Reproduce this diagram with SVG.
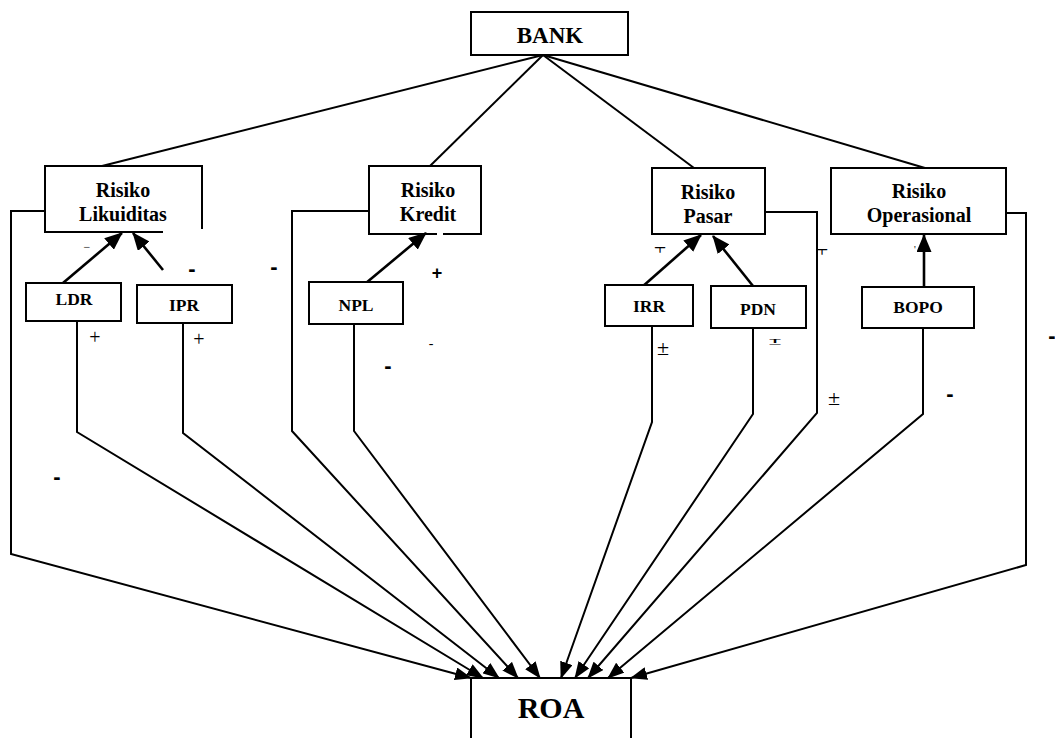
<svg xmlns="http://www.w3.org/2000/svg" width="1055" height="738" viewBox="0 0 1055 738">
<style>
.box{fill:#fff;stroke:#000;stroke-width:2}
.ln{fill:none;stroke:#000;stroke-width:2}
.ar{fill:none;stroke:#000;stroke-width:2.6}
.t{font-family:"Liberation Serif","Times New Roman",serif;font-weight:bold;text-anchor:middle;fill:#000}
.big{font-size:20px}
.sm{font-size:17.5px}
.sg{font-family:"Liberation Serif","Times New Roman",serif;text-anchor:middle;fill:#000}
.sb{font-family:"Liberation Sans",Arial,sans-serif;font-weight:bold;text-anchor:middle;fill:#000}
</style>
<defs>
<marker id="ah" markerUnits="userSpaceOnUse" markerWidth="17" markerHeight="13" refX="16" refY="6.5" orient="auto">
<path d="M0,0 L17,6.5 L0,13 z" fill="#000"/>
</marker>
<marker id="ah2" markerUnits="userSpaceOnUse" markerWidth="18" markerHeight="15" refX="17" refY="7.5" orient="auto">
<path d="M0,0 L18,7.5 L0,15 z" fill="#000"/>
</marker>
<clipPath id="c1"><rect x="648" y="247" width="25" height="6"/></clipPath>
<clipPath id="c2"><rect x="810" y="249" width="25" height="6"/></clipPath>
<clipPath id="c3"><rect x="762" y="339" width="25" height="6"/></clipPath>
</defs>

<g id="connectors">
<line class="ln" x1="543" y1="55" x2="102" y2="166"/>
<line class="ln" x1="543" y1="55" x2="430" y2="166"/>
<line class="ln" x1="543" y1="55" x2="694" y2="168"/>
<line class="ln" x1="543" y1="55" x2="925" y2="168"/>
<line class="ar" x1="63" y1="283" x2="122" y2="233" marker-end="url(#ah2)"/>
<line class="ar" x1="163" y1="270" x2="133" y2="233" marker-end="url(#ah2)"/>
<line class="ar" x1="366" y1="283" x2="426" y2="233" marker-end="url(#ah2)"/>
<line class="ar" x1="642" y1="287" x2="701" y2="235" marker-end="url(#ah2)"/>
<line class="ar" x1="753" y1="286" x2="713" y2="236" marker-end="url(#ah2)"/>
<line class="ar" x1="924" y1="287" x2="924" y2="235" marker-end="url(#ah2)"/>
<path class="ln" d="M45,211 H11 V554 L471,678" marker-end="url(#ah)"/>
<path class="ln" d="M77,321 V432 L483,678" marker-end="url(#ah)"/>
<path class="ln" d="M183,323 V433 L499,678" marker-end="url(#ah)"/>
<path class="ln" d="M369,211 H292 V431 L518,678" marker-end="url(#ah)"/>
<path class="ln" d="M354,324 V431 L540,678" marker-end="url(#ah)"/>
<path class="ln" d="M652,326 V422 L561,678" marker-end="url(#ah)"/>
<path class="ln" d="M753,328 V414 L575,678" marker-end="url(#ah)"/>
<path class="ln" d="M765,212 H817 V413 L588,678" marker-end="url(#ah)"/>
<path class="ln" d="M923,328 V414 L608,678" marker-end="url(#ah)"/>
<path class="ln" d="M1006,213 H1026 V565 L631,678" marker-end="url(#ah)"/>
</g>

<g id="bank">
<rect class="box" x="471" y="12" width="157" height="43"/>
<text class="t" x="550" y="43" font-size="23">BANK</text>
</g>

<g id="risiko-likuiditas">
<path class="ln" d="M163,232 H45 V166 H202 V229"/>
<text class="t big" x="123" y="197">Risiko</text>
<text class="t big" x="123" y="221">Likuiditas</text>
</g>

<g id="risiko-kredit">
<path class="ln" d="M437,234 H369 V166 H481 V234 H443"/>
<text class="t big" x="428" y="197">Risiko</text>
<text class="t big" x="428" y="221">Kredit</text>
</g>

<g id="risiko-pasar">
<rect class="box" x="652" y="168" width="113" height="66"/>
<text class="t big" x="708" y="199">Risiko</text>
<text class="t big" x="708" y="223">Pasar</text>
</g>

<g id="risiko-operasional">
<rect class="box" x="831" y="168" width="175" height="66"/>
<text class="t big" x="919" y="198">Risiko</text>
<text class="t big" x="919" y="222">Operasional</text>
</g>

<g id="ldr">
<rect class="box" x="26" y="283" width="95" height="38"/>
<text class="t sm" x="74" y="305">LDR</text>
</g>
<g id="ipr">
<rect class="box" x="137" y="285" width="95" height="38"/>
<text class="t sm" x="184" y="311">IPR</text>
</g>
<g id="npl">
<rect class="box" x="309" y="282" width="94" height="42"/>
<text class="t sm" x="356" y="311">NPL</text>
</g>
<g id="irr">
<rect class="box" x="605" y="285" width="88" height="41"/>
<text class="t sm" x="649" y="312">IRR</text>
</g>
<g id="pdn">
<rect class="box" x="711" y="286" width="95" height="42"/>
<text class="t sm" x="758" y="315">PDN</text>
</g>
<g id="bopo">
<rect class="box" x="862" y="287" width="112" height="41"/>
<text class="t sm" x="918" y="313">BOPO</text>
</g>

<g id="roa">
<rect class="box" x="471" y="678" width="160" height="62"/>
<text class="t" x="551" y="718" font-size="30">ROA</text>
</g>

<g id="signs">
<text class="sg" x="87" y="251" font-size="12" fill="#555">−</text>
<text class="sb" x="192" y="276" font-size="22">-</text>
<text class="sg" x="95" y="344" font-size="20">+</text>
<text class="sg" x="199" y="346" font-size="20">+</text>
<text class="sb" x="274" y="274" font-size="22">-</text>
<text class="sb" x="437" y="279" font-size="18">+</text>
<text class="sg" x="431" y="348" font-size="14">-</text>
<text class="sb" x="388" y="373" font-size="22">-</text>
<text class="sb" x="57" y="484" font-size="22">-</text>
<text class="sg" x="660" y="255" font-size="22" clip-path="url(#c1)">±</text>
<text class="sg" x="822" y="257" font-size="22" clip-path="url(#c2)">±</text>
<text class="sg" x="663" y="355" font-size="22">±</text>
<text class="sb" x="775" y="347" font-size="22" clip-path="url(#c3)">±</text>
<text class="sg" x="834" y="405" font-size="22">±</text>
<text class="sb" x="950" y="401" font-size="22">-</text>
<text class="sg" x="915" y="253" font-size="10">'</text>
<text class="sb" x="1052" y="343" font-size="22">-</text>
</g>
</svg>
